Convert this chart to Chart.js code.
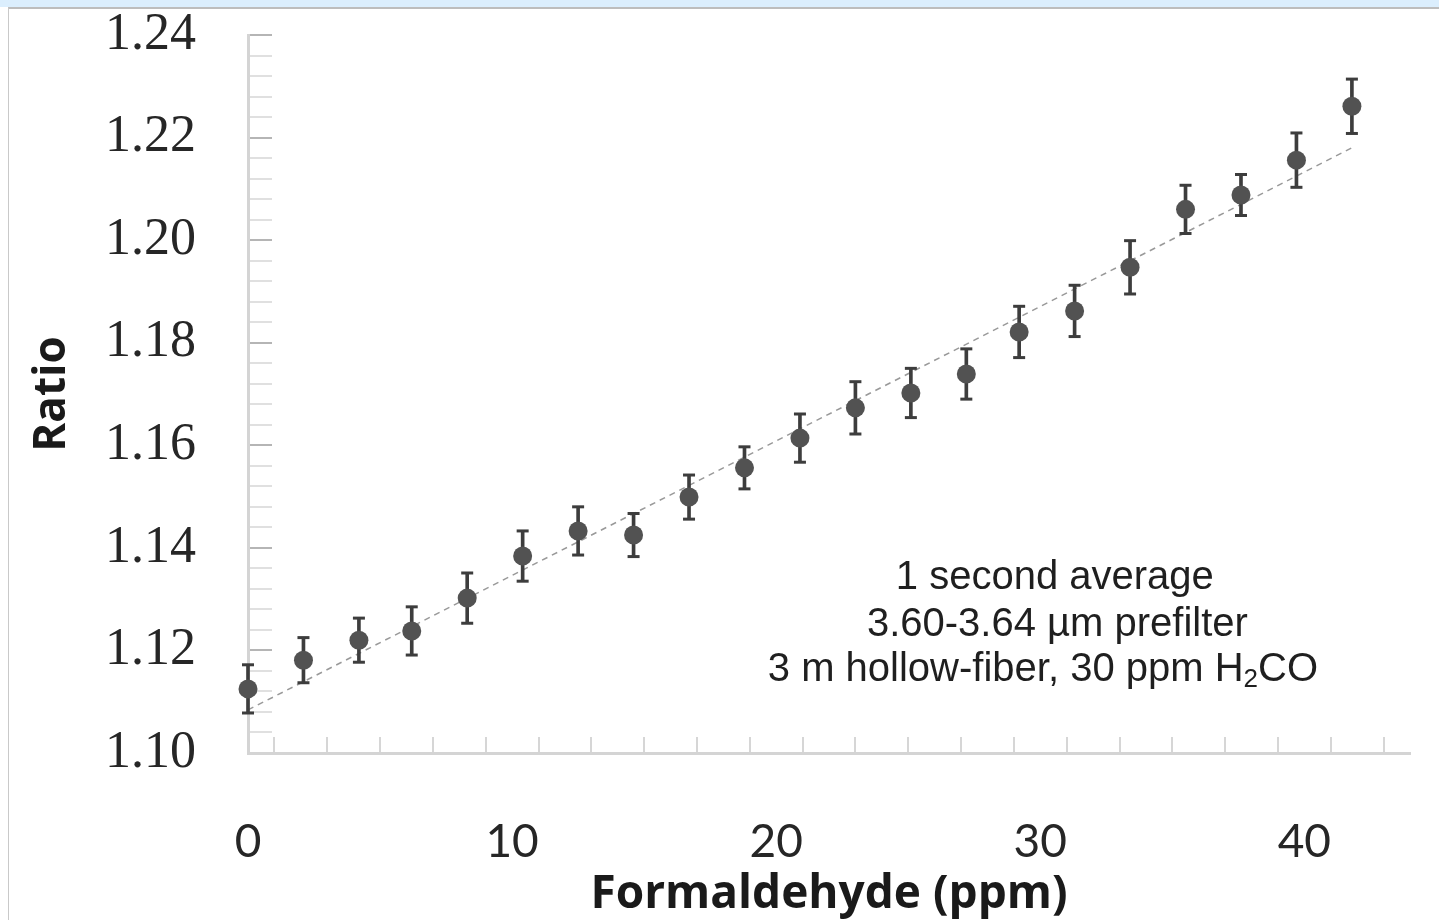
<!DOCTYPE html>
<html>
<head>
<meta charset="utf-8">
<title>Ratio vs formaldehyde</title>
<script src="https://cdn.jsdelivr.net/npm/chart.js@4.4.1/dist/chart.umd.min.js"></script>
<style>
    html, body { margin: 0; padding: 0; background: #ffffff; overflow: hidden; }
    .topbar { position: absolute; left: 0; top: 0; width: 1439px; height: 7px; background: #dbeefd; }
    .frame { position: absolute; left: 8px; top: 7px; width: 1431px; height: 913px;
             border-left: 1px solid #c9c9c9; border-top: 2px solid #bdbdbd; box-sizing: border-box; }
    .wrap { position: absolute; left: 0; top: 0; width: 1439px; height: 920px; }
</style>
</head>
<body>
<div class="topbar"></div>
<div class="frame"></div>
<div class="wrap"><canvas id="chart" width="1439" height="920"></canvas></div>
<script>
const concentrations = [0, 2.1, 4.2, 6.2, 8.3, 10.4, 12.5, 14.6, 16.7, 18.8, 20.9,
    23.0, 25.1, 27.2, 29.2, 31.3, 33.4, 35.5, 37.6, 39.7, 41.8];
const ratios = [1.1125, 1.1181, 1.1220, 1.1238, 1.1302, 1.1384, 1.1433, 1.1425, 1.1499, 1.1556, 1.1614,
    1.1673, 1.1702, 1.1739, 1.1821, 1.1862, 1.1947, 1.2060, 1.2088, 1.2156, 1.2261];
const ratioErrors = [0.0047, 0.0044, 0.0043, 0.0047, 0.0049, 0.0049, 0.0047, 0.0042, 0.0043, 0.0041, 0.0047,
    0.0051, 0.0048, 0.0049, 0.0050, 0.0050, 0.0052, 0.0047, 0.0040, 0.0053, 0.0053];

// Linear fit end points
const fitX = [0, 41.8];
const fitY = [1.1084, 1.2180];

// Axis settings
const xTickLabels = [0, 10, 20, 30, 40];
const yTickLabels = [1.10, 1.12, 1.14, 1.16, 1.18, 1.20, 1.22, 1.24];

// Annotation block (centre of each line in data units)
const noteLines = ['1 second average', '3.60-3.64 \u00b5m prefilter', '3 m hollow-fiber, 30 ppm H\u2082CO'];
const noteAnchorX = [30.55, 30.65, 30.1];
const noteAnchorY = [1.1341, 1.1250, 1.1162];

const isMajor = (list, v) => list.some(t => Math.abs(t - v) < 1e-6);

const points = concentrations.map((x, i) => ({ x: x, y: ratios[i] }));
const bars = concentrations.map((x, i) => ({ x: x, y: [ratios[i] - ratioErrors[i], ratios[i] + ratioErrors[i]] }));
const caps = [];
concentrations.forEach((x, i) => {
    caps.push({ x: x, y: ratios[i] - ratioErrors[i] });
    caps.push({ x: x, y: ratios[i] + ratioErrors[i] });
});
const fitLine = fitX.map((x, i) => ({ x: x, y: fitY[i] }));

// Text note drawn in data coordinates, H2CO with a real subscript
const notePlugin = {
    id: 'note',
    afterDatasetsDraw(chart) {
        const { ctx, scales } = chart;
        ctx.save();
        ctx.fillStyle = '#1f1f1f';
        ctx.textBaseline = 'middle';
        ctx.textAlign = 'left';
        noteLines.forEach((line, i) => {
            const cx = scales.x.getPixelForValue(noteAnchorX[i]);
            const y = scales.y.getPixelForValue(noteAnchorY[i]);
            const parts = line.split('\u2082');
            const big = '40px "Liberation Sans", Arial, sans-serif';
            const small = '26px "Liberation Sans", Arial, sans-serif';
            ctx.font = big;
            let w = ctx.measureText(parts[0]).width;
            let subW = 0;
            let restW = 0;
            if (parts.length > 1) {
                ctx.font = small;
                subW = ctx.measureText('2').width;
                ctx.font = big;
                restW = ctx.measureText(parts[1]).width;
            }
            let x = cx - (w + subW + restW) / 2;
            ctx.font = big;
            ctx.fillText(parts[0], x, y);
            if (parts.length > 1) {
                x += w;
                ctx.font = small;
                ctx.fillText('2', x, y + 10);
                x += subW;
                ctx.font = big;
                ctx.fillText(parts[1], x, y);
            }
        });
        ctx.restore();
    }
};

new Chart(document.getElementById('chart'), {
    type: 'scatter',
    data: {
        datasets: [
            {
                label: 'Ratio',
                data: points,
                backgroundColor: '#525252',
                borderColor: '#525252',
                pointRadius: 9.5,
                borderWidth: 0,
                clip: false
            },
            {
                type: 'bar',
                label: 'error',
                data: bars,
                backgroundColor: '#3d3d3d',
                barThickness: 3,
                grouped: false,
                clip: false
            },
            {
                label: 'caps',
                data: caps,
                pointStyle: 'line',
                pointRadius: 6,
                borderWidth: 3,
                borderColor: '#3d3d3d',
                clip: false
            },
            {
                type: 'line',
                label: 'fit',
                data: fitLine,
                borderColor: '#999999',
                borderWidth: 1.5,
                borderDash: [6, 5],
                pointRadius: 0,
                fill: false,
                clip: false
            }
        ]
    },
    options: {
        responsive: false,
        animation: false,
        layout: { padding: { top: 35, right: 29, left: 0, bottom: 0 } },
        plugins: {
            legend: { display: false },
            tooltip: { enabled: false }
        },
        scales: {
            x: {
                type: 'linear',
                min: 0,
                max: 44,
                offset: false,
                afterFit(scale) {
                    scale.height = 167;
                    scale.paddingLeft = 0;
                    scale.paddingRight = 0;
                },
                border: { display: true, color: '#d4d4d4', width: 3 },
                grid: {
                    drawOnChartArea: false,
                    drawTicks: true,
                    tickLength: -16,
                    color: '#d6d6d6',
                    lineWidth: 2
                },
                ticks: {
                    stepSize: 2,
                    autoSkip: false,
                    maxRotation: 0,
                    padding: 78,
                    color: '#262626',
                    font: { family: 'Lato', size: 46 },
                    callback: v => isMajor(xTickLabels, v) ? String(v) : ''
                },
                title: {
                    display: true,
                    text: 'Formaldehyde (ppm)',
                    color: '#1a1a1a',
                    font: { family: '"Open Sans"', size: 46, weight: 'bold', lineHeight: 1.0 },
                    padding: { top: 0, bottom: 2 }
                }
            },
            y: {
                type: 'linear',
                min: 1.10,
                max: 1.24,
                afterFit(scale) {
                    scale.width = 248;
                    scale.paddingTop = 0;
                    scale.paddingBottom = 0;
                },
                border: { display: true, color: '#d4d4d4', width: 3 },
                grid: {
                    drawOnChartArea: false,
                    drawTicks: true,
                    tickLength: -24,
                    color: ctx => ctx.tick && isMajor(yTickLabels, ctx.tick.value) ? '#b5b5b5' : '#e0e0e0',
                    lineWidth: 2
                },
                ticks: {
                    stepSize: 0.004,
                    autoSkip: false,
                    padding: 76,
                    color: '#262626',
                    font: { family: '"Liberation Serif", serif', size: 52 },
                    callback: v => isMajor(yTickLabels, v) ? v.toFixed(2) : ''
                },
                title: {
                    display: true,
                    text: 'Ratio',
                    color: '#1a1a1a',
                    font: { family: '"Open Sans"', size: 44, weight: 'bold', lineHeight: 1.0 },
                    padding: { top: 30, bottom: 0 }
                }
            }
        }
    },
    plugins: [notePlugin]
});
</script>
</body>
</html>
